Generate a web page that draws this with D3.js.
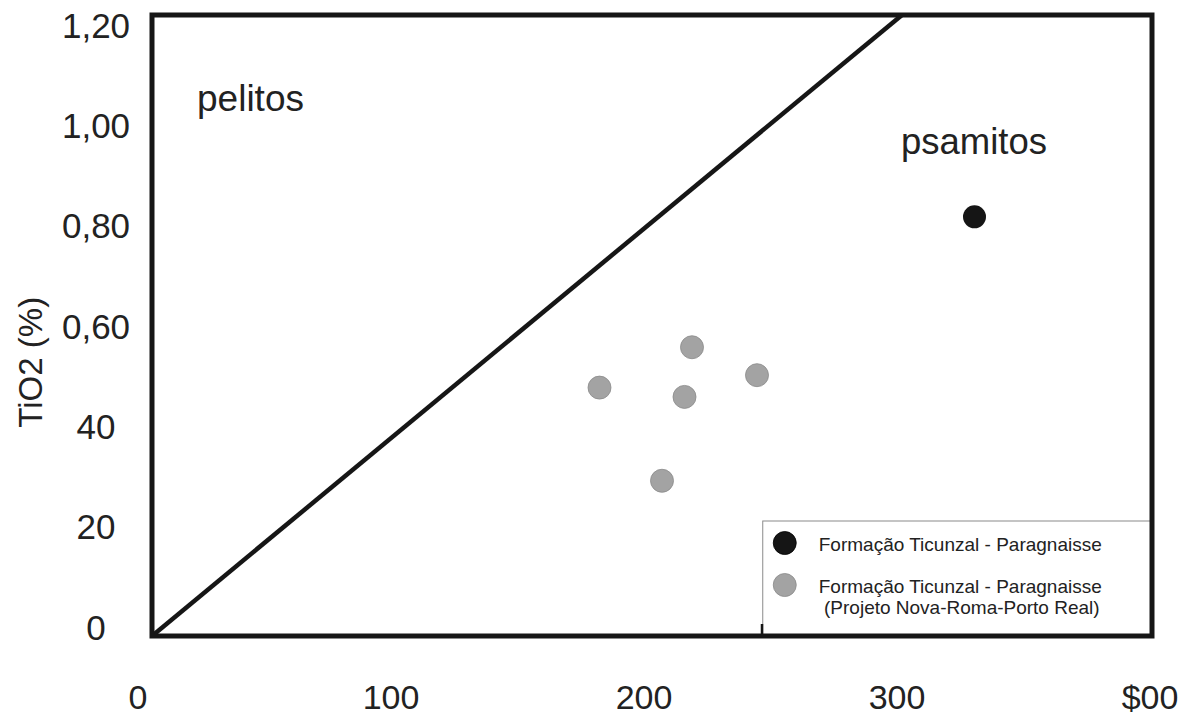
<!DOCTYPE html>
<html>
<head>
<meta charset="utf-8">
<script src="https://cdn.jsdelivr.net/npm/d3@7"></script>
<style>
  html, body { margin: 0; padding: 0; background: #fff; }
  text { font-family: "Liberation Sans", Arial, sans-serif; fill: #222; }
</style>
</head>
<body>
<div id="chart"></div>
<script>
// axis ticks as printed in the source figure
const xTicks = [0, 100, 200, 300, 400];
const xTickLabels = ['0', '100', '200', '300', '$00'];
const yTicks = [0, 0.2, 0.4, 0.6, 0.8, 1.0, 1.2];
const yTickLabels = ['0', '20', '40', '0,60', '0,80', '1,00', '1,20'];

// pelitos / psamitos boundary
const boundaryX = [0, 300];
const boundaryY = [0, 1.2];

// Formação Ticunzal - Paragnaisse
const ticunzalX = [329];
const ticunzalY = [0.81];

// Formação Ticunzal - Paragnaisse (Projeto Nova-Roma-Porto Real)
const novaRomaX = [216, 242, 179, 213, 204];
const novaRomaY = [0.558, 0.504, 0.48, 0.462, 0.30];

const bottomTick = [244];

const legendItems = [
    { label: ['Formação Ticunzal - Paragnaisse'], color: '#151515', stroke: '#000' },
    { label: ['Formação Ticunzal - Paragnaisse', ' (Projeto Nova-Roma-Porto Real)'], color: '#a3a3a3', stroke: '#8a8a8a' }
];

const width = 1189, height = 718;
const margin = { top: 15, right: 37, bottom: 82, left: 152 };

const svg = d3.select('#chart').append('svg')
    .attr('width', width)
    .attr('height', height);

const x = d3.scaleLinear().domain([0, 400]).range([margin.left, width - margin.right]);
const y = d3.scaleLinear().domain([0, 1.2]).range([height - margin.bottom, margin.top]);

// the printed tick labels sit a little off the frame, so they get their own spread
const xLab = x.copy().range([138, 1150]);
const yLab = y.copy().range([627, 25]);

// tick labels (no tick marks in the original)
svg.append('g').selectAll('text')
    .data(yTicks)
    .join('text')
    .attr('x', 96)
    .attr('y', d => yLab(d))
    .attr('dy', '0.36em')
    .attr('text-anchor', 'middle')
    .style('font-size', '35px')
    .text((d, i) => yTickLabels[i]);

svg.append('g').selectAll('text')
    .data(xTicks)
    .join('text')
    .attr('x', d => xLab(d))
    .attr('y', 709)
    .attr('text-anchor', 'middle')
    .style('font-size', '34px')
    .text((d, i) => xTickLabels[i]);

svg.append('text')
    .attr('transform', `translate(42,${(y(0.4) + y(0.6)) / 2 - 15}) rotate(-90)`)
    .attr('text-anchor', 'middle')
    .style('font-size', '33px')
    .text('TiO2 (%)');

// legend box sits in the lower-right corner of the frame
const legendLeft = x(244.3), legendTop = 521;
svg.append('rect')
    .attr('x', legendLeft)
    .attr('y', legendTop)
    .attr('width', x.range()[1] - legendLeft)
    .attr('height', y.range()[0] - legendTop)
    .attr('fill', '#fff')
    .attr('stroke', '#8a8a8a')
    .attr('stroke-width', 1);

const legend = svg.append('g').selectAll('g')
    .data(legendItems)
    .join('g')
    .attr('transform', (d, i) => `translate(${legendLeft + 22},${legendTop + 22 + i * 42})`);

legend.append('circle')
    .attr('r', 11.5)
    .attr('fill', d => d.color)
    .attr('stroke', d => d.stroke)
    .attr('stroke-width', 0.8);

legend.append('text')
    .attr('x', 34)
    .attr('y', 8)
    .style('font-size', '19px')
    .selectAll('tspan')
    .data(d => d.label)
    .join('tspan')
    .attr('x', 34)
    .attr('dy', (d, i) => i === 0 ? 0 : 21)
    .text(d => d);

// region labels
svg.append('text')
    .attr('x', 197)
    .attr('y', 111)
    .style('font-size', '37px')
    .text('pelitos');

svg.append('text')
    .attr('x', 901)
    .attr('y', 154)
    .style('font-size', '36.5px')
    .text('psamitos');

// boundary line
svg.append('line')
    .attr('x1', x(boundaryX[0]))
    .attr('y1', y(boundaryY[0]))
    .attr('x2', x(boundaryX[1]))
    .attr('y2', y(boundaryY[1]))
    .attr('stroke', '#161616')
    .attr('stroke-width', 4.5);

// points
svg.append('g').selectAll('circle')
    .data(d3.zip(novaRomaX, novaRomaY))
    .join('circle')
    .attr('cx', d => x(d[0]))
    .attr('cy', d => y(d[1]))
    .attr('r', 11.5)
    .attr('fill', '#a3a3a3')
    .attr('stroke', '#8a8a8a')
    .attr('stroke-width', 0.8);

svg.append('g').selectAll('circle')
    .data(d3.zip(ticunzalX, ticunzalY))
    .join('circle')
    .attr('cx', d => x(d[0]))
    .attr('cy', d => y(d[1]))
    .attr('r', 11.5)
    .attr('fill', '#151515');

// small tick on the bottom edge
svg.append('g').selectAll('line')
    .data(bottomTick)
    .join('line')
    .attr('x1', d => x(d))
    .attr('x2', d => x(d))
    .attr('y1', y(0))
    .attr('y2', y(0) - 12)
    .attr('stroke', '#161616')
    .attr('stroke-width', 2.5);

// frame
svg.append('rect')
    .attr('x', x.range()[0])
    .attr('y', y.range()[1])
    .attr('width', x.range()[1] - x.range()[0])
    .attr('height', y.range()[0] - y.range()[1])
    .attr('fill', 'none')
    .attr('stroke', '#161616')
    .attr('stroke-width', 5);
</script>
</body>
</html>
